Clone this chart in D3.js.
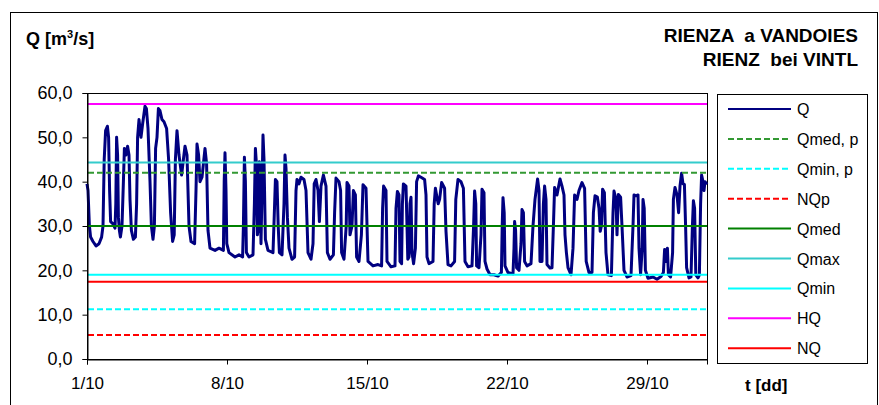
<!DOCTYPE html>
<html>
<head>
<meta charset="utf-8">
<script src="https://cdn.jsdelivr.net/npm/d3@7"></script>
<style>
  body { margin: 0; background: #fff; }
  text { font-family: 'Liberation Sans', Arial, sans-serif; }
</style>
</head>
<body>
<div id="svg-container"></div>
<script>
const svgWidth = 879;
const svgHeight = 405;

// reference levels, m3/s
const levelNames = ['Qmed, p', 'Qmin, p', 'NQp', 'Qmed', 'Qmax', 'Qmin', 'HQ', 'NQ'];
const levelValues = [42.0, 11.2, 5.4, 30.0, 44.3, 19.0, 57.5, 17.4];

// legend order (Q first)
const legendNames = ['Q', 'Qmed, p', 'Qmin, p', 'NQp', 'Qmed', 'Qmax', 'Qmin', 'HQ', 'NQ'];

// axis ticks
const yTicks = [0, 10, 20, 30, 40, 50, 60];
const xTickDays = [0, 7, 14, 21, 28];
const xTickLabels = ['1/10', '8/10', '15/10', '22/10', '29/10'];

// Q series: [days since 1/10 00:00, m3/s]
const qSeries = [
  [0.00, 39.5], [0.05, 38], [0.12, 30], [0.18, 27.5], [0.3, 26.5], [0.45, 25.5], [0.6, 26], [0.73, 27.5],
  [0.8, 30], [0.86, 45], [0.93, 51.5], [1.02, 52.5], [1.08, 50], [1.13, 38], [1.18, 31], [1.3, 30.5],
  [1.4, 29.5], [1.44, 35], [1.48, 50], [1.53, 46], [1.57, 32], [1.62, 29], [1.67, 27.5], [1.75, 30],
  [1.82, 40], [1.87, 47.5], [1.95, 46], [2.03, 48], [2.1, 46], [2.15, 36], [2.22, 29], [2.32, 27],
  [2.42, 27.5], [2.48, 35], [2.53, 50], [2.6, 54], [2.7, 50], [2.78, 53], [2.9, 57], [2.97, 56.5],
  [3.05, 52], [3.15, 40], [3.22, 30], [3.3, 27], [3.37, 30], [3.43, 47.5], [3.5, 50], [3.57, 56.5],
  [3.65, 56], [3.75, 54], [3.85, 53.5], [3.98, 52], [4.08, 45], [4.18, 33], [4.28, 26.5], [4.36, 28],
  [4.42, 45], [4.5, 51.5], [4.6, 46], [4.73, 41.5], [4.82, 45], [4.9, 48], [5.0, 46], [5.1, 30],
  [5.2, 26.5], [5.38, 26], [5.45, 38], [5.5, 48.5], [5.58, 46], [5.65, 40], [5.75, 41], [5.9, 47.5],
  [5.98, 44], [6.05, 29], [6.15, 25], [6.4, 24.5], [6.6, 25], [6.82, 24.5], [6.86, 40], [6.9, 46.5],
  [6.95, 38], [6.99, 26], [7.1, 24], [7.4, 23], [7.6, 23.5], [7.78, 23],
  [7.82, 30], [7.87, 45.5], [7.92, 40], [7.97, 24], [8.1, 23], [8.3, 23.5], [8.37, 35], [8.42, 47.5],
  [8.47, 44], [8.52, 28], [8.58, 30], [8.62, 44.5], [8.66, 36], [8.7, 26], [8.75, 38], [8.8, 50.5],
  [8.85, 45], [8.92, 27], [9.05, 24.5], [9.3, 24], [9.36, 32], [9.42, 40.5], [9.5, 40], [9.56, 30],
  [9.62, 24], [9.75, 23.5], [9.85, 35], [9.9, 46], [9.95, 43], [10.02, 32], [10.1, 25], [10.25, 22.5],
  [10.38, 23], [10.45, 38], [10.5, 40.5], [10.6, 39.5], [10.7, 41], [10.85, 40.5], [10.95, 38], [11.05, 24],
  [11.2, 22.5], [11.3, 26], [11.36, 39.5], [11.45, 40.5], [11.55, 38], [11.62, 31], [11.7, 39], [11.82, 41.5],
  [11.95, 39], [12.02, 24], [12.15, 22.5], [12.32, 23.5], [12.38, 33], [12.45, 40.8], [12.6, 40], [12.68, 38],
  [12.73, 24], [12.85, 22.5], [12.96, 30], [13.0, 39.8], [13.1, 39], [13.15, 28], [13.25, 30], [13.32, 38],
  [13.42, 37], [13.48, 23], [13.6, 22], [13.72, 28], [13.8, 39.3], [13.95, 38.5], [14.05, 22], [14.3, 21],
  [14.55, 21.3], [14.73, 21], [14.78, 34], [14.83, 39], [14.95, 38], [15.0, 22], [15.2, 20.8], [15.4, 21],
  [15.45, 34], [15.52, 37.8], [15.6, 37], [15.65, 22],
  [15.73, 21.5], [15.77, 35], [15.82, 39.5], [15.95, 39], [16.0, 30], [16.04, 22.5], [16.1, 23], [16.15, 35],
  [16.2, 36.5], [16.25, 24], [16.33, 21.5], [16.42, 25], [16.48, 40], [16.57, 41.3], [16.7, 41], [16.88, 40.5],
  [16.95, 37], [17.0, 23], [17.1, 21.5], [17.3, 22], [17.36, 35], [17.42, 38.5], [17.5, 36.4], [17.56, 35],
  [17.63, 36], [17.73, 39.8], [17.88, 38.5], [17.95, 28.8], [18.05, 21.3], [18.2, 21], [18.38, 22], [18.44, 36],
  [18.55, 40.5], [18.7, 40], [18.82, 38.5], [18.9, 22], [19.05, 20.8], [19.25, 21], [19.33, 30], [19.38, 37.9],
  [19.44, 35], [19.48, 21], [19.6, 20.6], [19.7, 28], [19.75, 38.3], [19.85, 37.5], [19.9, 22], [20.0, 20.3],
  [20.15, 19], [20.35, 19], [20.55, 18.7], [20.72, 19.5], [20.76, 30], [20.8, 36.4], [20.86, 33], [20.9, 21],
  [21.05, 19.5], [21.3, 19.2], [21.35, 25], [21.38, 31], [21.43, 29], [21.48, 20.6], [21.6, 20], [21.7, 26],
  [21.75, 33.7], [21.82, 33], [21.88, 22], [22.0, 21], [22.2, 21.5], [22.3, 30], [22.4, 36], [22.53, 40.6],
  [22.6, 38], [22.65, 22], [22.75, 22], [22.82, 35], [22.88, 39], [22.95, 36], [23.0, 21.3], [23.15, 20.5],
  [23.25, 20.6],
  [23.32, 30], [23.38, 38.7], [23.5, 37], [23.57, 38.7], [23.65, 40.6], [23.75, 39], [23.85, 37], [23.9, 28],
  [23.97, 24], [24.05, 20.6], [24.2, 19], [24.3, 25], [24.38, 37], [24.5, 36], [24.6, 38], [24.75, 39.8],
  [24.88, 38.5], [24.96, 22], [25.1, 19.5], [25.25, 19.5], [25.32, 33], [25.4, 36.8], [25.52, 36.5], [25.6, 34],
  [25.66, 28.8], [25.72, 30], [25.78, 38.3], [25.87, 37.5], [25.95, 24], [26.05, 19], [26.22, 18.8], [26.3, 33],
  [26.35, 37.9], [26.45, 36], [26.5, 28], [26.57, 37.1], [26.68, 36.5], [26.75, 30], [26.85, 20], [27.0, 18.5],
  [27.2, 18.8], [27.3, 30], [27.35, 37], [27.45, 36.8], [27.55, 37], [27.6, 25], [27.68, 19], [27.76, 25],
  [27.8, 36], [27.86, 34], [27.92, 20], [28.05, 18.2], [28.3, 18.5], [28.5, 18], [28.7, 18.6], [28.82, 19.5],
  [28.88, 24.7], [28.95, 22], [29.02, 25], [29.07, 19], [29.18, 18.5], [29.28, 24], [29.32, 36], [29.4, 38.7],
  [29.5, 37], [29.58, 33], [29.65, 39], [29.73, 41.9], [29.8, 39.5], [29.87, 39.4], [29.93, 30], [29.98, 20.6],
  [30.1, 18.3], [30.2, 18.5], [30.27, 30], [30.32, 35.7], [30.38, 34], [30.44, 19], [30.55, 18.3], [30.62, 19],
  [30.68, 35], [30.73, 41.5], [30.8, 40], [30.85, 38], [30.9, 40], [31.0, 39.4]
];

const styles = {
  'Q':       { color: '#000080', dash: null },
  'Qmed, p': { color: '#339933', dash: '6,3' },
  'Qmin, p': { color: '#00ffff', dash: '6,3' },
  'NQp':     { color: '#ff0000', dash: '6,3' },
  'Qmed':    { color: '#008000', dash: null },
  'Qmax':    { color: '#33cccc', dash: null },
  'Qmin':    { color: '#00ffff', dash: null },
  'HQ':      { color: '#ff00ff', dash: null },
  'NQ':      { color: '#ff0000', dash: null }
};

const plot = { left: 87, right: 707, top: 93, bottom: 359 };

const svg = d3.select('#svg-container')
  .append('svg')
  .attr('width', svgWidth)
  .attr('height', svgHeight);

svg.append('rect')
  .attr('width', svgWidth).attr('height', svgHeight)
  .attr('fill', '#fff');

// outer frame
svg.append('rect')
  .attr('x', 10.5).attr('y', 12.5)
  .attr('width', 867).attr('height', 400)
  .attr('fill', 'none').attr('stroke', '#000').attr('stroke-width', 1);

const x = d3.scaleLinear().domain([0, 31]).range([plot.left, plot.right]);
const y = d3.scaleLinear().domain([0, 60]).range([plot.bottom, plot.top]);

const comma = d => d.toFixed(1).replace('.', ',');

// plot frame
svg.append('rect')
  .attr('x', plot.left + 0.5).attr('y', plot.top + 0.5)
  .attr('width', plot.right - plot.left).attr('height', plot.bottom - plot.top)
  .attr('fill', 'none').attr('stroke', '#000');

// Q line
const line = d3.line()
  .x(d => x(d[0]))
  .y(d => y(d[1]));

svg.append('path')
  .datum(qSeries)
  .attr('d', line)
  .attr('fill', 'none')
  .attr('stroke', styles['Q'].color)
  .attr('stroke-width', 3)
  .attr('stroke-linejoin', 'round');

// reference levels
svg.selectAll('.level')
  .data(levelNames)
  .enter()
  .append('line')
  .attr('class', 'level')
  .attr('x1', plot.left + 1).attr('x2', plot.right)
  .attr('y1', (d, i) => y(levelValues[i]))
  .attr('y2', (d, i) => y(levelValues[i]))
  .attr('stroke', d => styles[d].color)
  .attr('stroke-width', 2)
  .attr('stroke-dasharray', d => styles[d].dash);

// axes
const yAxis = d3.axisLeft(y)
  .tickValues(yTicks)
  .tickFormat(comma)
  .tickSize(5)
  .tickPadding(10);

const xAxis = d3.axisBottom(x)
  .tickValues(xTickDays)
  .tickFormat((d, i) => xTickLabels[i])
  .tickSize(5)
  .tickPadding(12);

const gy = svg.append('g')
  .attr('transform', `translate(${plot.left + 0.5},0)`)
  .call(yAxis);

const gx = svg.append('g')
  .attr('transform', `translate(0,${plot.bottom + 0.5})`)
  .call(xAxis);

[gx, gy].forEach(g => {
  g.select('.domain').attr('stroke', '#000');
  g.selectAll('.tick line').attr('stroke', '#000');
  g.selectAll('.tick text')
    .attr('fill', '#000')
    .style('font-size', '17px')
    .style('font-family', "'Liberation Sans', Arial, sans-serif");
});
gy.selectAll('.tick text').style('font-size', '18px');

// titles
const qLabel = svg.append('text')
  .attr('x', 26).attr('y', 45)
  .style('font-size', '18px').style('font-weight', 'bold');
qLabel.append('tspan').text('Q [m');
qLabel.append('tspan').text('3').style('font-size', '11px').attr('dy', -7);
qLabel.append('tspan').text('/s]').attr('dy', 7);

svg.append('text')
  .attr('x', 858).attr('y', 42)
  .attr('text-anchor', 'end')
  .style('font-size', '19px').style('font-weight', 'bold')
  .style('white-space', 'pre')
  .text('RIENZA  a VANDOIES');

svg.append('text')
  .attr('x', 858).attr('y', 66)
  .attr('text-anchor', 'end')
  .style('font-size', '19px').style('font-weight', 'bold')
  .style('white-space', 'pre')
  .text('RIENZ  bei VINTL');

svg.append('text')
  .attr('x', 745).attr('y', 391)
  .style('font-size', '17px').style('font-weight', 'bold')
  .text('t [dd]');

// legend
const legend = svg.append('g');

legend.append('rect')
  .attr('x', 717.5).attr('y', 94.5)
  .attr('width', 150).attr('height', 269)
  .attr('fill', '#fff').attr('stroke', '#000');

const item = legend.selectAll('.item')
  .data(legendNames)
  .enter()
  .append('g')
  .attr('class', 'item')
  .attr('transform', (d, i) => `translate(0,${109 + i * 29.9})`);

item.append('line')
  .attr('x1', 728).attr('x2', 791)
  .attr('stroke', d => styles[d].color)
  .attr('stroke-width', 2)
  .attr('stroke-dasharray', d => styles[d].dash);

item.append('text')
  .attr('x', 797).attr('y', 6)
  .style('font-size', '16px')
  .text(d => d);
</script>
</body>
</html>
